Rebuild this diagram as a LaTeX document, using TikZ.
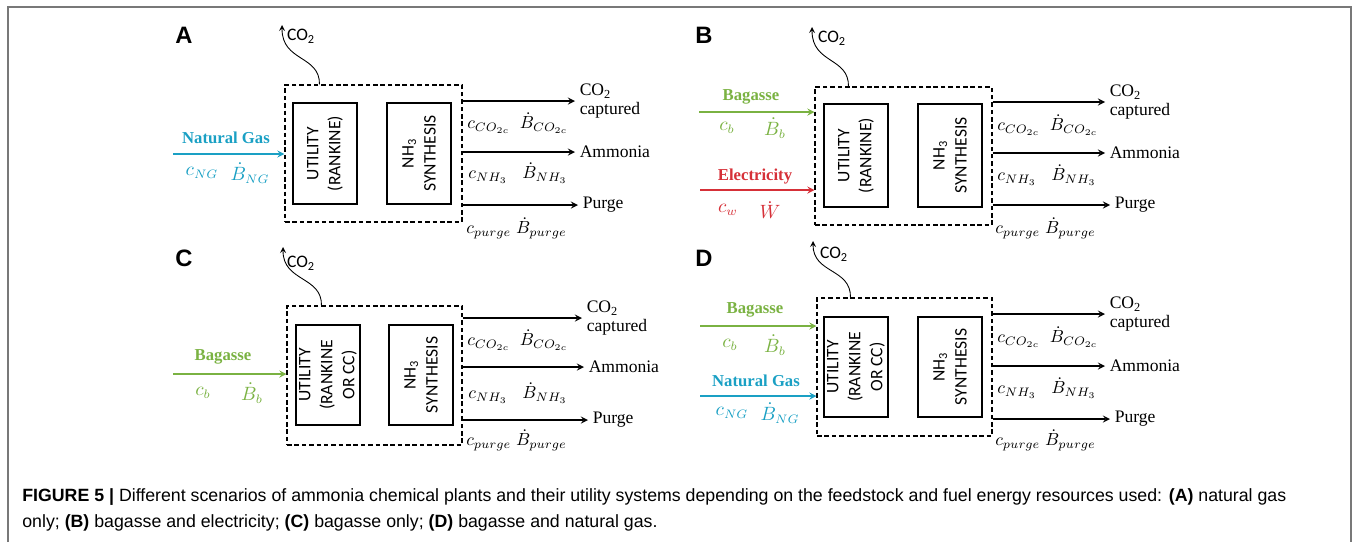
\documentclass[tikz,border=0pt]{standalone}
\usepackage{fontspec}
\setmainfont{Liberation Serif}
\setsansfont{Liberation Sans}
\newfontfamily\boxfont{Carlito}
\usetikzlibrary{fit,calc}

\definecolor{ngblue}{RGB}{26,160,196}
\definecolor{bagreen}{RGB}{122,178,66}
\definecolor{elred}{RGB}{214,48,56}
\definecolor{framegray}{RGB}{120,120,120}

\begin{document}
\begin{tikzpicture}[x=0.02cm,y=-0.02cm,>=stealth,
  plant/.style={draw, dash pattern=on 2.6pt off 1.6pt, inner sep=0pt, line width=0.6pt},
  unitbox/.style={draw, inner sep=0pt, line width=0.6pt},
  unittxt/.style={rotate=90, align=center, font=\boxfont\fontsize{10}{12.5}\selectfont},
  flow/.style={->, line width=0.8pt},
  vent/.style={->, line width=0.5pt},
  ventlbl/.style={font=\boxfont\fontsize{10}{12}\selectfont, inner sep=1pt},
  outlbl/.style={anchor=west, align=left, inner sep=2.5pt, font=\fontsize{10}{10.5}\selectfont},
  mathlbl/.style={anchor=west, inner sep=0pt, font=\fontsize{10}{12}\selectfont},
  feedlbl/.style={font=\bfseries\fontsize{9.5}{12}\selectfont},
  feedmath/.style={inner sep=1pt, font=\fontsize{10.5}{12}\selectfont},
  caption/.style={anchor=west, inner sep=0pt, font=\sffamily\fontsize{10.1}{12}\selectfont},
  letter/.style={font=\sffamily\bfseries\fontsize{13.5}{14}\selectfont}
]
\useasboundingbox (0,0) rectangle (1354,542);

% Frame
\draw[framegray, line width=0.7pt] (8,542) -- (8,7) -- (1351,7) -- (1351,542);

% Panel A: natural gas only
\node[letter] (a-lbl) at (184,35) {A};
\node[plant, fit={(285,85) (462,222)}] (a-plant) {};
\node[unitbox, fit={(293,103) (357,204)}] (a-util) {};
\node[unitbox, fit={(387,103) (451,204)}] (a-syn) {};
\node[unittxt] (a-utiltxt) at (a-util) {UTILITY\\(RANKINE)};
\node[unittxt] (a-syntxt) at (a-syn) {NH\textsubscript{3}\\SYNTHESIS};
\coordinate (a-vent) at (282,25);
\draw[vent] ($(a-plant.north west)+(35,0)$) .. controls (320,55) and (282,62) .. (a-vent);
\node[ventlbl] (a-co2) at (301,36) {CO\textsubscript{2}};
\node[outlbl] (a-co2c) at (575,101) {CO\textsubscript{2}\\captured}; % outputs
\node[outlbl] (a-nh3) at (575,152) {Ammonia};
\node[outlbl] (a-purge) at (578,205) {Purge};
\draw[flow] (a-plant.east |- a-co2c.west) -- (a-co2c.west);
\draw[flow] (a-plant.east |- a-nh3.west) -- (a-nh3.west);
\draw[flow] (a-plant.east |- a-purge.west) -- (a-purge.west);
\node[mathlbl] (a-co2cx) at (467,123) {$c_{CO_{2c}}\;\;\dot{B}_{CO_{2c}}$};
\node[mathlbl] (a-nh3x) at (468,173) {$c_{NH_3}\;\;\;\dot{B}_{NH_3}$};
\node[mathlbl] (a-purgex) at (466,228) {$c_{purge}\;\dot{B}_{purge}$};
\coordinate (a-ngin) at (173,154); % input
\draw[flow, ngblue] (a-ngin) -- (a-plant.west |- a-ngin);
\node[feedlbl, ngblue] (a-ngtxt) at (226,138) {Natural Gas};
\node[feedmath, ngblue] (a-cng) at (202,173) {$c_{NG}$};
\node[feedmath, ngblue] (a-bng) at (250,173) {$\dot{B}_{NG}$};

% Panel B: bagasse and electricity
\node[letter] (b-lbl) at (704,35) {B};
\node[plant, fit={(815,87) (992,225)}] (b-plant) {};
\node[unitbox, fit={(824,104) (888,207)}] (b-util) {};
\node[unitbox, fit={(918,104) (982,207)}] (b-syn) {};
\node[unittxt] (b-utiltxt) at (b-util) {UTILITY\\(RANKINE)};
\node[unittxt] (b-syntxt) at (b-syn) {NH\textsubscript{3}\\SYNTHESIS};
\coordinate (b-vent) at (812,27);
\draw[vent] ($(b-plant.north west)+(34,0)$) .. controls (849,57) and (812,64) .. (b-vent);
\node[ventlbl] (b-co2) at (832,38) {CO\textsubscript{2}};
\node[outlbl] (b-co2c) at (1105,102) {CO\textsubscript{2}\\captured}; % outputs
\node[outlbl] (b-nh3) at (1105,153) {Ammonia};
\node[outlbl] (b-purge) at (1110,205) {Purge};
\draw[flow] (b-plant.east |- b-co2c.west) -- (b-co2c.west);
\draw[flow] (b-plant.east |- b-nh3.west) -- (b-nh3.west);
\draw[flow] (b-plant.east |- b-purge.west) -- (b-purge.west);
\node[mathlbl] (b-co2cx) at (997,125) {$c_{CO_{2c}}\;\;\dot{B}_{CO_{2c}}$};
\node[mathlbl] (b-nh3x) at (997,175) {$c_{NH_3}\;\;\;\dot{B}_{NH_3}$};
\node[mathlbl] (b-purgex) at (995,228) {$c_{purge}\;\dot{B}_{purge}$};
\coordinate (b-bagin) at (699,112); % inputs
\draw[flow, bagreen] (b-bagin) -- (b-plant.west |- b-bagin);
\node[feedlbl, bagreen] (b-bagtxt) at (751,97) {Bagasse};
\node[feedmath, bagreen] (b-cb) at (727,128) {$c_b$};
\node[feedmath, bagreen] (b-bb) at (775,128) {$\dot{B}_b$};
\coordinate (b-elin) at (700,190);
\draw[flow, elred] (b-elin) -- (b-plant.west |- b-elin);
\node[feedlbl, elred] (b-eltxt) at (755,177) {Electricity};
\node[feedmath, elred] (b-cw) at (728,210) {$c_w$};
\node[feedmath, elred] (b-bw) at (770,210) {$\dot{W}$};

% Panel C: bagasse only
\node[letter] (c-lbl) at (184,258) {C};
\node[plant, fit={(287,306) (462,445)}] (c-plant) {};
\node[unitbox, fit={(296,325) (360,425)}] (c-util) {};
\node[unitbox, fit={(389,325) (453,425)}] (c-syn) {};
\node[unittxt] (c-utiltxt) at (c-util) {UTILITY\\(RANKINE\\OR CC)};
\node[unittxt] (c-syntxt) at (c-syn) {NH\textsubscript{3}\\SYNTHESIS};
\coordinate (c-vent) at (283,247);
\draw[vent] ($(c-plant.north west)+(35,0)$) .. controls (322,276) and (283,282) .. (c-vent);
\node[ventlbl] (c-co2) at (301,263) {CO\textsubscript{2}};
\node[outlbl] (c-co2c) at (582,318) {CO\textsubscript{2}\\captured}; % outputs
\node[outlbl] (c-nh3) at (584,367) {Ammonia};
\node[outlbl] (c-purge) at (588,420) {Purge};
\draw[flow] (c-plant.east |- c-co2c.west) -- (c-co2c.west);
\draw[flow] (c-plant.east |- c-nh3.west) -- (c-nh3.west);
\draw[flow] (c-plant.east |- c-purge.west) -- (c-purge.west);
\node[mathlbl] (c-co2cx) at (467,340) {$c_{CO_{2c}}\;\;\dot{B}_{CO_{2c}}$};
\node[mathlbl] (c-nh3x) at (468,393) {$c_{NH_3}\;\;\;\dot{B}_{NH_3}$};
\node[mathlbl] (c-purgex) at (466,440) {$c_{purge}\;\dot{B}_{purge}$};
\coordinate (c-bagin) at (173,374); % input
\draw[flow, bagreen] (c-bagin) -- (c-plant.west |- c-bagin);
\node[feedlbl, bagreen] (c-bagtxt) at (223,357) {Bagasse};
\node[feedmath, bagreen] (c-cb) at (203,393) {$c_b$};
\node[feedmath, bagreen] (c-bb) at (252,393) {$\dot{B}_b$};

% Panel D: bagasse and natural gas
\node[letter] (d-lbl) at (704,258) {D};
\node[plant, fit={(817,298) (992,436)}] (d-plant) {};
\node[unitbox, fit={(824,317) (888,417)}] (d-util) {};
\node[unitbox, fit={(918,317) (982,417)}] (d-syn) {};
\node[unittxt] (d-utiltxt) at (d-util) {UTILITY\\(RANKINE\\OR CC)};
\node[unittxt] (d-syntxt) at (d-syn) {NH\textsubscript{3}\\SYNTHESIS};
\coordinate (d-vent) at (813,241);
\draw[vent] ($(d-plant.north west)+(34,0)$) .. controls (851,268) and (813,274) .. (d-vent);
\node[ventlbl] (d-co2) at (834,254) {CO\textsubscript{2}};
\node[outlbl] (d-co2c) at (1105,314) {CO\textsubscript{2}\\captured}; % outputs
\node[outlbl] (d-nh3) at (1105,366) {Ammonia};
\node[outlbl] (d-purge) at (1110,419) {Purge};
\draw[flow] (d-plant.east |- d-co2c.west) -- (d-co2c.west);
\draw[flow] (d-plant.east |- d-nh3.west) -- (d-nh3.west);
\draw[flow] (d-plant.east |- d-purge.west) -- (d-purge.west);
\node[mathlbl] (d-co2cx) at (997,337) {$c_{CO_{2c}}\;\;\dot{B}_{CO_{2c}}$};
\node[mathlbl] (d-nh3x) at (997,388) {$c_{NH_3}\;\;\;\dot{B}_{NH_3}$};
\node[mathlbl] (d-purgex) at (995,440) {$c_{purge}\;\dot{B}_{purge}$};
\coordinate (d-bagin) at (700,326); % inputs
\draw[flow, bagreen] (d-bagin) -- (d-plant.west |- d-bagin);
\node[feedlbl, bagreen] (d-bagtxt) at (755,310) {Bagasse};
\node[feedmath, bagreen] (d-cb) at (730,345) {$c_b$};
\node[feedmath, bagreen] (d-bb) at (775,345) {$\dot{B}_b$};
\coordinate (d-ngin) at (700,396);
\draw[flow, ngblue] (d-ngin) -- (d-plant.west |- d-ngin);
\node[feedlbl, ngblue] (d-ngtxt) at (756,381) {Natural Gas};
\node[feedmath, ngblue] (d-cng) at (732,413) {$c_{NG}$};
\node[feedmath, ngblue] (d-bng) at (780,413) {$\dot{B}_{NG}$};

% Caption
\node[caption] (cap1) at (22,497)
  {\textbf{FIGURE 5 |} Different scenarios of ammonia chemical plants and their utility systems depending on the feedstock and fuel energy resources used: \textbf{(A)} natural gas};
\node[caption] (cap2) at (22,523)
  {only; \textbf{(B)} bagasse and electricity; \textbf{(C)} bagasse only; \textbf{(D)} bagasse and natural gas.};

\end{tikzpicture}
\end{document}
